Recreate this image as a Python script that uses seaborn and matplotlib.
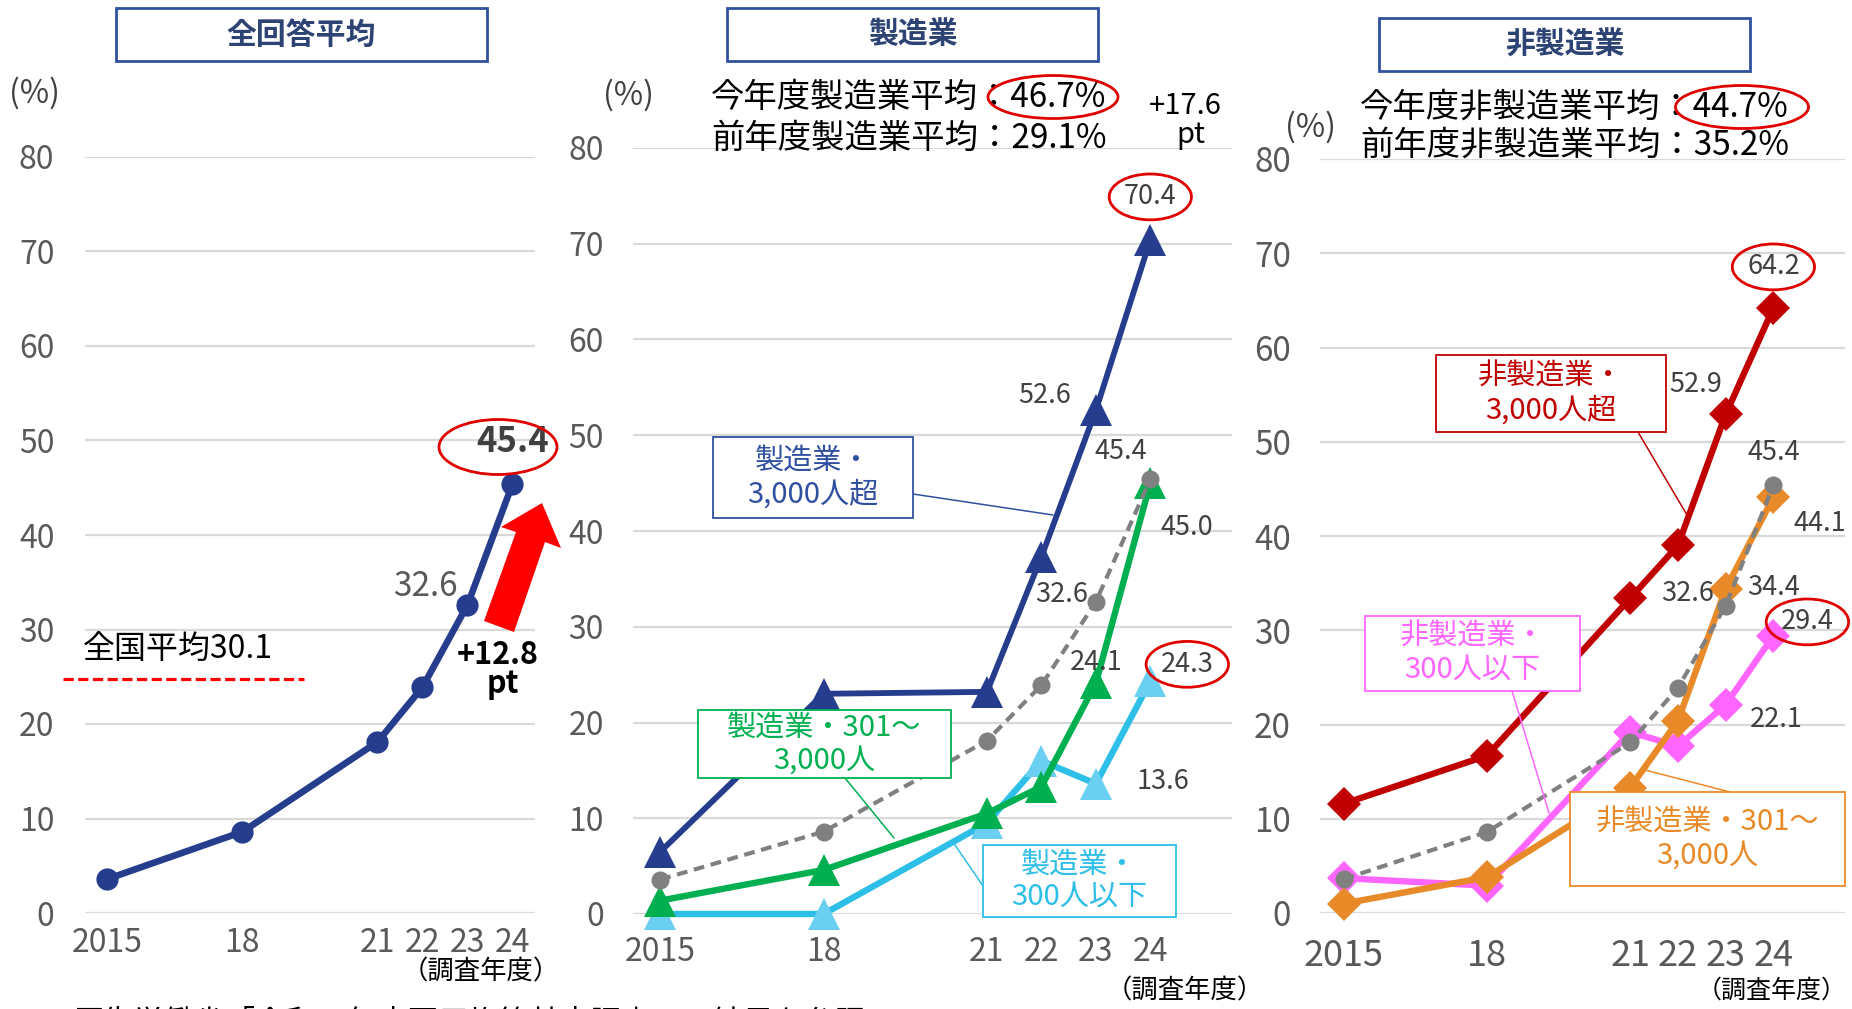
import matplotlib
matplotlib.use("Agg")
import matplotlib.pyplot as plt
from matplotlib.patches import Rectangle, Ellipse, Polygon
from matplotlib.lines import Line2D
import seaborn as sns

# ---- data -------------------------------------------------------------
years = [2015, 2018, 2021, 2022, 2023, 2024]
year_labels = ["2015", "18", "21", "22", "23", "24"]
y_ticks = [0, 10, 20, 30, 40, 50, 60, 70, 80]

all_avg = [3.6, 8.6, 18.1, 23.9, 32.6, 45.4]

mfg_large = [6.5, 23.0, 23.2, 37.3, 52.6, 70.4]   # 製造業・3,000人超
mfg_mid = [1.4, 4.6, 10.5, 13.3, 24.1, 45.0]      # 製造業・301～3,000人
mfg_small = [0.0, 0.0, 9.5, 16.0, 13.6, 24.3]     # 製造業・300人以下

non_large = [11.6, 16.7, 33.4, 39.0, 52.9, 64.2]  # 非製造業・3,000人超
non_mid = [1.0, 3.8, 13.3, 20.4, 34.4, 44.1]      # 非製造業・301～3,000人
non_small = [3.7, 2.9, 19.2, 17.7, 22.1, 29.4]    # 非製造業・300人以下

national_avg = 30.1
mfg_avg_now, mfg_avg_prev = 46.7, 29.1
non_avg_now, non_avg_prev = 44.7, 35.2

# ---- style -------------------------------------------------------------
sns.set_style("white")
plt.rcParams["font.family"] = ["Noto Sans CJK JP", "DejaVu Sans"]

NAVY = "#263D8E"
GREEN = "#00B050"
LBLUE_LINE = "#2EBFE8"
LBLUE_MK = "#6ACFF0"
GRAY = "#808080"
RED = "#C00000"
PINK = "#FF66FF"
ORANGE = "#E98A28"
TICK = "#595959"
LABEL = "#404040"
TITLE_EDGE = "#3050A0"
TITLE_TXT = "#2D4373"

W, H = 1852, 1009
fig = plt.figure(figsize=(W / 100, H / 100), dpi=100)


def fx(x):
    return x / W


def fy(y):
    return 1 - y / H


def make_ax(left, right, top, bottom, xmax, xpad, ypad, xsize, ysize):
    ax = fig.add_axes([fx(left), fy(bottom), (right - left) / W, (bottom - top) / H])
    ax.set_xlim(2014.5, xmax)
    ax.set_ylim(0, 80)
    ax.set_xticks(years)
    ax.set_xticklabels(year_labels)
    ax.set_yticks(y_ticks)
    ax.tick_params(axis="x", length=0, pad=xpad, labelsize=xsize, labelcolor=TICK)
    ax.tick_params(axis="y", length=0, pad=ypad, labelsize=ysize, labelcolor=TICK)
    ax.grid(axis="y", color="#D9D9D9", linewidth=1.6)
    ax.grid(axis="x", visible=False)
    for s in ax.spines.values():
        s.set_visible(False)
    ax.set_axisbelow(True)
    return ax


def series(ax, vals, color, marker, ms, lw=4.6, mfc=None, ls="-", z=3):
    mc = mfc or color
    sns.lineplot(x=years, y=vals, ax=ax, color=color, marker=marker,
                 markersize=ms, markerfacecolor=mc, markeredgecolor=mc,
                 markeredgewidth=0, linewidth=lw, linestyle=ls,
                 errorbar=None, clip_on=False, zorder=z)
    ax.set_xlabel("")
    ax.set_ylabel("")


def value_label(ax, x, v, dx, dy, size=19.5, color=LABEL, weight="normal", ring=False):
    bbox = None
    if ring:
        bbox = dict(boxstyle="ellipse,pad=0.1", fc="none", ec="#E00000", lw=2)
    ax.annotate(f"{v:.1f}", xy=(x, v), xytext=(dx, dy), textcoords="offset pixels",
                ha="center", va="center", fontsize=size, color=color,
                fontweight=weight, bbox=bbox, annotation_clip=False, zorder=6)


def title_box(x0, y0, x1, y1, text):
    fig.patches.append(Rectangle((fx(x0), fy(y1)), (x1 - x0) / W, (y1 - y0) / H,
                                 transform=fig.transFigure, fc="white",
                                 ec=TITLE_EDGE, lw=2, zorder=5))
    fig.text(fx((x0 + x1) / 2), fy((y0 + y1) / 2), text, ha="center", va="center",
             fontsize=21.5, fontweight="bold", color=TITLE_TXT, zorder=6)


def callout(x0, y0, x1, y1, text, color, line_from, line_to, size=21):
    fig.lines.append(Line2D([fx(line_from[0]), fx(line_to[0])],
                            [fy(line_from[1]), fy(line_to[1])],
                            transform=fig.transFigure, color=color, lw=1.1, zorder=5))
    fig.patches.append(Rectangle((fx(x0), fy(y1)), (x1 - x0) / W, (y1 - y0) / H,
                                 transform=fig.transFigure, fc="white",
                                 ec=color, lw=1.3, zorder=5))
    fig.text(fx((x0 + x1) / 2), fy((y0 + y1) / 2), text, ha="center", va="center",
             fontsize=size, color=color, linespacing=1.15, zorder=6)


def ring(cx, cy, w, h):
    fig.patches.append(Ellipse((fx(cx), fy(cy)), w / W, h / H, transform=fig.transFigure,
                               fc="none", ec="#E00000", lw=2, zorder=6))


def ftext(x, y, s, size=20, **kw):
    kw.setdefault("color", "black")
    fig.text(fx(x), fy(y), s, fontsize=size, va="center", **kw)


# ---- panel 1 : 全回答平均 ------------------------------------------------
ax1 = make_ax(85, 535, 157, 913, 2024.5, 10, 22, 23, 23)
series(ax1, all_avg, NAVY, "o", 16, lw=4.8)
ax1.annotate(f"{all_avg[-1]:.1f}", xy=(years[-1], all_avg[-1]), xytext=(0, 42),
             textcoords="offset pixels", ha="center", va="center", fontsize=25,
             fontweight="bold", color=LABEL, annotation_clip=False, zorder=6)
ring(498, 447, 118, 55)
value_label(ax1, years[-2], all_avg[-2], -42, 18, size=24, color=TICK)

title_box(116, 8, 487, 61, "全回答平均")
ftext(34, 93, "(%)", size=23, color="#404040", ha="center")
ftext(481, 972, "（調査年度）", size=19, ha="center")

ftext(83, 649, f"全国平均{national_avg}", size=23)
fig.lines.append(Line2D([fx(63), fx(304)], [fy(679), fy(679)], transform=fig.transFigure,
                        color="#FF0000", lw=2.3, dashes=(3.2, 1.4), zorder=5))

arrow_px = [(542, 503), (561, 548), (545, 542), (514, 632), (484, 621), (516, 532), (501, 527)]
fig.patches.append(Polygon([(fx(x), fy(y)) for x, y in arrow_px], closed=True,
                           transform=fig.transFigure, fc="#FF0000", ec="none", zorder=5))
gain_all = all_avg[-1] - all_avg[-2]
ftext(498, 655, f"+{gain_all:.1f}", size=22, fontweight="bold", ha="center")
ftext(503, 684, "pt", size=22, fontweight="bold", ha="center")

# ---- panel 2 : 製造業 ---------------------------------------------------
ax2 = make_ax(633, 1232, 148, 914, 2025.5, 16, 21, 23, 23)
series(ax2, mfg_small, LBLUE_LINE, "^", 23, mfc=LBLUE_MK, z=3)
series(ax2, mfg_mid, GREEN, "^", 23, z=4)
series(ax2, mfg_large, NAVY, "^", 23, lw=4.2, z=4)
series(ax2, all_avg, GRAY, "o", 13, lw=3.0, ls=(0, (2.6, 1.6)), z=5)

value_label(ax2, 2024, mfg_large[-1], 0, 43, ring=True)
value_label(ax2, 2023, mfg_large[-2], -51, 15)
value_label(ax2, 2024, all_avg[-1], -30, 28)
value_label(ax2, 2024, mfg_mid[-1], 37, -44)
value_label(ax2, 2023, all_avg[-2], -34, 7)
value_label(ax2, 2023, mfg_mid[-2], 0, 21)
value_label(ax2, 2024, mfg_small[-1], 37, 17, ring=True)
value_label(ax2, 2023, mfg_small[-2], 67, 2)

title_box(727, 8, 1098, 61, "製造業")
ftext(629, 95, "(%)", size=23, color="#404040", ha="center")
ftext(711, 97, f"今年度製造業平均：{mfg_avg_now}%", size=24)
ftext(711, 138, f"前年度製造業平均：{mfg_avg_prev}%", size=24)
ring(1053, 97, 130, 43)
gain_mfg = mfg_avg_now - mfg_avg_prev
ftext(1185, 106, f"+{gain_mfg:.1f}", size=21, ha="center")
ftext(1191, 135, "pt", size=21, ha="center")
ftext(1185, 991, "（調査年度）", size=19, ha="center")

callout(713, 437, 913, 518, "製造業・\n3,000人超", "#2F4FA0", (913, 494), (1053, 515))
callout(698, 710, 951, 778, "製造業・301～\n3,000人", GREEN, (845, 778), (894, 838))
callout(983, 845, 1176, 917, "製造業・\n300人以下", LBLUE_LINE, (983, 886), (953, 842))

# ---- panel 3 : 非製造業 -------------------------------------------------
ax3 = make_ax(1320, 1845, 159, 913, 2025.5, 18, 21, 26, 24)
series(ax3, non_large, RED, "D", 17, z=3)
series(ax3, non_small, PINK, "D", 17, z=3)
series(ax3, non_mid, ORANGE, "D", 17, z=4)
series(ax3, all_avg, GRAY, "o", 13, lw=3.0, ls=(0, (2.6, 1.6)), z=5)

value_label(ax3, 2024, non_large[-1], 0, 41, ring=True)
value_label(ax3, 2023, non_large[-2], -30, 30)
value_label(ax3, 2024, all_avg[-1], 0, 33)
value_label(ax3, 2024, non_mid[-1], 46, -26)
value_label(ax3, 2023, all_avg[-2], -38, 12)
value_label(ax3, 2023, non_mid[-2], 48, 1)
value_label(ax3, 2024, non_small[-1], 34, 14, ring=True)
value_label(ax3, 2023, non_small[-2], 51, -15)

title_box(1379, 18, 1750, 71, "非製造業")
ftext(1311, 127, "(%)", size=23, color="#404040", ha="center")
ftext(1360, 107, f"今年度非製造業平均：{non_avg_now}%", size=24)
ftext(1360, 145, f"前年度非製造業平均：{non_avg_prev}%", size=24)
ring(1742, 107, 133, 43)
ftext(1847, 991, "（調査年度）", size=18, ha="right")

callout(1436, 355, 1666, 432, "非製造業・\n3,000人超", RED, (1638, 432), (1687, 515))
callout(1365, 616, 1580, 691, "非製造業・\n300人以下", PINK, (1512, 691), (1549, 813))
callout(1570, 792, 1845, 886, "非製造業・301～\n3,000人", ORANGE, (1730, 792), (1645, 770))

# source note along the bottom edge
fig.text(fx(73), fy(1007), "厚生労働省「令和５年度雇用均等基本調査」の結果を参照",
         fontsize=22, va="top", color="black")

fig.savefig("out.png", dpi=100)
